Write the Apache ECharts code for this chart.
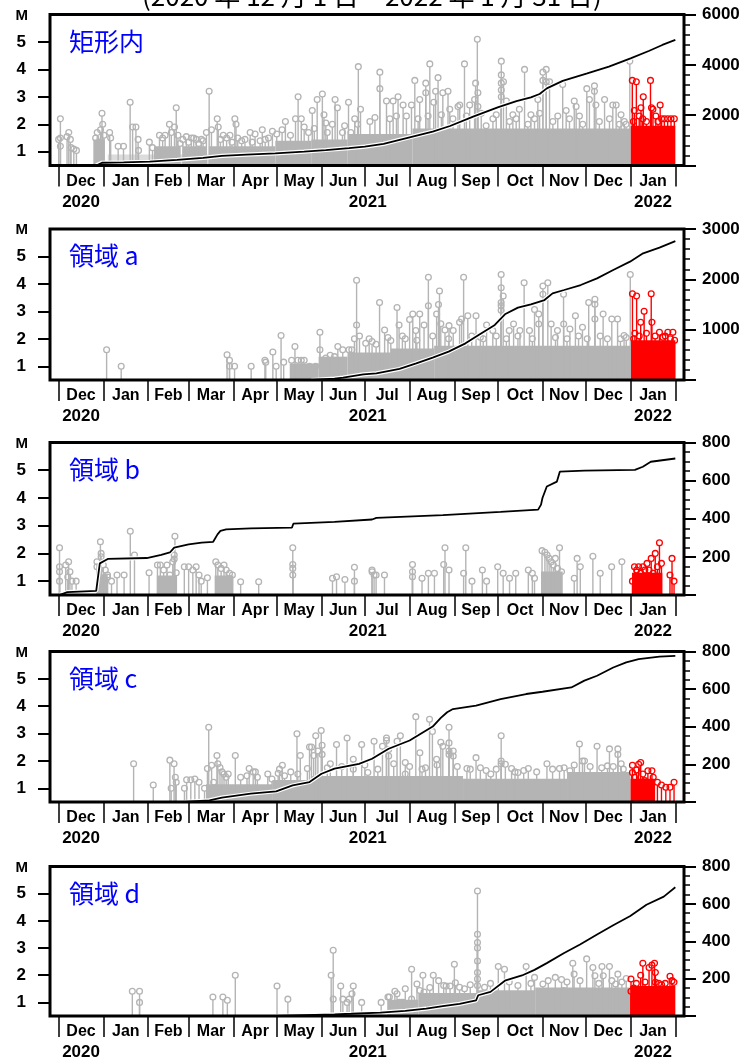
<!DOCTYPE html>
<html><head><meta charset="utf-8">
<script src="https://cdn.jsdelivr.net/npm/echarts@6/dist/echarts.min.js"></script>
<style>html,body{margin:0;padding:0;background:#fff}#c{width:750px;height:1061px}</style>
</head><body><div id="c"></div>
<script>
// ---- axis / tick data (day 0 = 2020-12-01) ----
const monthStarts = [0,31,62,90,121,151,182,212,243,274,304,335,365,396,427];
const monthNames = ['Dec','Jan','Feb','Mar','Apr','May','Jun','Jul','Aug','Sep','Oct','Nov','Dec','Jan'];
const yearPos = [15.5,214,411.5];
const yearNames = ['2020','2021','2022'];
const magTicks = [1,2,3,4,5];
const panelNames = ['矩形内','領域 a','領域 b','領域 c','領域 d'];
const countMax = [6000,3000,800,800,800];
const countStep = [2000,1000,200,200,200];
const countMinor = [5,5,4,4,4];

// ---- panel 1: 矩形内 ----
const gray1 = [[0,1.45],[1.2,2.2],[1.2,1.5],[1.2,1.2],[5.8,1.55],[7,1.7],[8.1,1.45],[8.6,1.15],[10.5,1.1],[12.3,1.05],
[25.6,1.5],[26.7,1.7],[27.9,1.35],[29,1.8],[30,2.4],[30.5,2.0],[31.4,1.6],[35.3,1.7],[36,1.5],[41.2,1.2],[44.9,1.2],
[49.5,2.8],[51.2,1.9],[53.5,1.9],[55,1.45],[55.3,1.05],[62.8,1.35],[65,1.15],
[69.8,1.6],[72,1.5],[73.7,1.6],[76.7,2.0],[78,1.7],[80.2,1.9],[81.4,2.6],[82.6,1.6],[84,1.3],[86,1.45],
[88.4,1.55],[90,1.35],[91.9,1.5],[93.5,1.5],[95.3,1.45],[97,1.3],[98.8,1.45],[100,1.4],
[102.3,1.7],[104.2,3.2],[105.8,1.8],[109.8,2.2],[110.5,1.9],[112,1.45],[114,1.6],[116.3,1.5],[118.6,1.6],[120,1.35],[122,2.2],[122.8,2.0],
[124,1.5],[126.7,1.4],[129,1.45],[132.6,1.7],[134,1.35],[136,1.65],[139.5,1.4],[141,1.8],[143,1.45],[145.3,1.5],[148,1.75],[151,1.65],[154.7,1.8],[157,2.1],[160.5,1.6],
[164,2.2],[165.8,3.0],[168,2.2],[170,1.9],[173,1.7],[175.6,2.5],[177,1.85],[179,2.9],[182.6,3.1],[183.7,2.35],[185,2.05],[186,1.7],
[189.5,2.0],[191.4,2.9],[193,2.6],[196.5,1.7],[198,1.95],[200.7,2.8],[202.3,1.7],[205,2.2],[207,2.0],[207.5,4.1],[209,2.55],
[215.5,2.1],[219,2.25],[222.4,3.9],[222.4,3.3],[227,2.85],[229.3,2.2],[231.6,2.85],[233.9,2.3],[235,3.0],[238.5,2.7],[240.8,2.3],
[244.3,2.7],[246.6,3.6],[248.9,2.2],[250,2.9],[254.2,3.15],[254.2,3.5],[255.8,2.3],[257,4.2],[259.7,2.8],[261,3.2],[262.7,3.7],
[265,2.35],[266,3.15],[269.6,3.2],[270.8,2.55],[273,2.2],[276.5,2.65],[277.7,2.7],[281,4.2],[282.3,2.3],[284.6,2.7],[288,2.9],
[288.7,3.5],[289.9,5.1],[290.3,3.15],[290.3,2.65],[292.6,2.4],[296,1.95],[300.7,2.2],[303,2.35],[306.5,4.3],[306.5,3.8],
[306.5,3.5],[306.5,3.25],[306.5,3.0],[308,3.55],[310,2.85],[312.2,2.1],[314.5,2.35],[316.8,2.2],[319,2.55],[322.6,4.0],
[324.9,2.0],[327,2.35],[329.5,2.2],[331.8,2.9],[333,2.4],[335.3,3.6],[335.3,3.9],[337.6,4.0],[337.6,3.55],[339.9,3.55],
[342.2,2.1],[345.6,2.3],[349,3.45],[351.4,2.5],[353.7,2.2],[357,2.85],[358.3,2.65],[360.6,2.3],[362.9,2.0],[365.7,3.3],
[367.5,2.9],[371,3.4],[371,3.2],[372,2.7],[374.4,2.1],[378,2.9],[381.4,2.2],[383.7,2.7],[386,2.7],[388.3,2.0],[389.4,2.35],
[391.7,2.1],[392.9,2.0],[395.5,4.3]];
const red1 = [[397.2,3.6],[398,2.1],[398.6,2.5],[400,3.55],[402,2.3],[403.2,2.6],[404.4,2.2],[404.8,3.0],[407,2.1],[409.8,3.6],
[410.5,2.6],[411.5,2.55],[413.5,2.3],[415,2.1],[416.5,2.7],[417.5,2.2],[419.4,2.2],[421.7,2.2],[424,2.2],[426.3,2.2]];
const dense1 = [[24,32,1.45],[66,84,1.2],[86,102,1.2],[104,150,1.2],[150,175,1.4],[175,200,1.45],[200,245,1.65],[245,396,1.85]];
const hatch1 = [[34,104,0.9]];
const denseRed1 = [[396,427,1.95]];
const cum1 = [[26,0],[27,60],[30,110],[45,125],[63,150],[82,220],[100,300],[113,380],[130,430],[150,480],[170,550],[185,615],
[201,690],[212,750],[225,860],[243,1120],[259,1345],[271,1570],[287,1940],[304,2310],[317,2560],[327,2710],[333,2840],
[338,3066],[349,3360],[366,3660],[381,3930],[396,4260],[409,4560],[418,4790],[427,4990]];

// ---- panel 2: 領域 a ----
const gray2 = [[33.2,1.6],[43.3,1.0],[116.6,1.42],[118.3,1.22],[118.3,1.0],[121.8,1.0],[133.3,1.0],[142.8,1.22],[143.4,1.15],
[148.3,1.52],[150.6,1.0],[154,2.12],[155.8,1.15],[161.3,1.22],[163.6,1.72],[165.6,1.22],[168,1.22],[170,1.22],[173.7,1.0],
[178,1.0],[180.9,2.24],[180.9,1.6],[185,1.3],[188,1.4],[191,1.35],[193.3,1.72],[196.7,1.6],[201,1.6],[203,1.6],[204.8,2.0],
[206.3,4.13],[206.3,2.5],[208.3,2.1],[212.6,1.84],[215,2.0],[217,1.9],[219.8,1.8],[222.2,3.32],[225.7,2.32],[228,2.05],
[230,1.94],[234.3,3.14],[235.7,2.5],[238,2.1],[240,2.0],[243,2.7],[245.2,2.9],[247.3,2.3],[248,1.95],[250,2.9],[253,2.5],
[256,4.24],[256,3.2],[259,2.1],[261.7,2.9],[263,3.25],[263.7,3.74],[264.6,2.55],[267.5,2.32],[270,2.0],[270.3,2.48],
[273.2,2.3],[277.6,2.6],[279,2.72],[280.4,4.24],[283.3,2.84],[286,2.1],[289,2.84],[292,2.06],[294,2.0],[296.3,2.5],
[300.6,2.3],[303,2.1],[306.4,4.34],[306.4,3.86],[306.4,3.32],[306.4,3.2],[306.4,3.04],[307.8,3.56],[310,2.0],[312,2.3],
[315,2.54],[318,2.1],[319.4,2.3],[322.3,4.04],[326,2.3],[328,2.0],[329.5,3.07],[332.4,2.9],[332.4,2.54],[335.3,3.92],
[335.3,3.62],[338.7,4.04],[341,2.54],[344,2.05],[345.4,2.3],[349.6,3.62],[349.7,2.54],[352,2.0],[354,2.36],[357.8,2.84],
[360,2.1],[362.7,2.42],[366,2.0],[367,3.32],[371.3,3.44],[371.3,3.26],[371.3,2.72],[375,2.1],[377,2.9],[380,2.0],
[383,2.72],[387,2.72],[389,2.0],[391.5,2.12],[393,2.05],[395.8,4.34]];
const red2 = [[397.3,3.64],[398.2,2.0],[399,2.2],[400.2,3.56],[402,2.1],[403,2.6],[405.4,3.0],[407,2.2],[410.3,3.64],
[410.8,2.6],[413,2.1],[416,2.24],[418.4,2.06],[420,2.1],[421.8,2.24],[423.5,2.0],[425.3,2.24],[426.5,1.95]];
const dense2 = [[160,180,1.1],[180,200,1.35],[200,230,1.5],[230,260,1.65],[260,396,1.75]];
const denseRed2 = [[396,427,1.95]];
const cum2 = [[175,0],[191,26],[197,46],[211,112],[220,132],[236,219],[247.6,331],[259,444],[270,563],[281.7,728],
[290.8,894],[302,1093],[309,1305],[318,1437],[327,1503],[336.4,1589],[342,1722],[350,1788],[361.5,1887],[372.8,2020],
[384,2185],[395.6,2351],[404.7,2517],[416,2629],[427,2760]];

// ---- panel 3: 領域 b ----
const gray3 = [[0.6,2.2],[0.6,1.52],[0.6,1.34],[0.6,1.0],[4.9,1.58],[6.3,1.15],[6.9,1.7],[7.8,1.34],[9.2,1.0],[12.1,1.0],
[26.5,1.7],[26.5,1.52],[28.9,2.42],[29.4,2.0],[29.4,1.88],[30.9,1.58],[32.3,1.4],[33.8,1.22],[33.8,1.15],[36.6,1.0],
[40.4,1.22],[45.3,1.22],[49.6,2.8],[52.5,1.94],[62.6,1.3],[68.4,1.58],[70.4,1.58],[72.7,1.4],[75,1.58],[77,1.22],[79,1.7],
[80,1.94],[80,1.8],[80.5,2.62],[81.4,1.3],[87,1.52],[90,1.52],[92.9,1.4],[95.2,1.52],[97.2,1.22],[98.7,1.0],[103,1.12],
[108.8,1.7],[110.2,1.58],[112.5,1.46],[114.5,1.58],[116,1.4],[118.3,1.28],[120.3,1.22],[126,0.98],[138.5,0.98],
[162.1,2.2],[162.1,1.6],[162.1,1.46],[162.1,1.22],[189.6,1.1],[192.4,1.16],[198.2,1.06],[204.8,1.5],[204.8,1.0],
[217,1.4],[217,1.34],[218.4,1.22],[219.8,1.22],[225.6,1.22],[245,1.6],[245,1.34],[245,1.16],[251.6,1.1],[256,1.28],
[260.2,1.28],[266.6,1.6],[267.5,2.2],[270.3,1.4],[280.4,1.28],[281.9,2.2],[286.2,1.0],[293.4,1.4],[296.3,1.0],[304,1.52],
[307.8,1.28],[312.2,1.1],[316.5,1.28],[325.2,1.4],[328,1.28],[329.5,1.1],[334.7,2.1],[336.7,2.04],[338.2,1.94],
[339.6,1.82],[341,1.7],[342.5,1.58],[343.9,1.82],[345.4,1.46],[346.8,2.2],[348.2,1.34],[357,1.1],[359,1.82],[361.2,1.52],
[369.9,1.9],[375,1.28],[382.9,1.52],[390,1.7]];
const red3 = [[397.3,1.0],[398.7,1.52],[400.2,1.4],[401.6,1.52],[403,1.28],[404.5,1.52],[405.9,1.4],[407.4,1.64],[408.8,1.4],
[410.3,1.82],[411.7,1.28],[413.1,2.0],[414.6,1.52],[416,2.38],[417.4,1.64],[423.3,1.22],[424.7,1.82],[426.1,1.0]];
const dense3 = [[26,34,1.25],[68,82,1.2],[108,121,1.2],[334,349,1.35]];
const denseRed3 = [[397,418,1.3]];
const cum3 = [[0.5,0],[1,8],[6,15],[26,22],[27.5,110],[28.5,166],[34,189],[61,194],[71,211],[77,223],[80,249],[90,266],
[99,275],[107,279],[110,318],[112,336],[116,344],[133,349],[161.5,353],[162.5,374],[191,384],[217,396],[220,405],[266,419],
[306,436],[332,448],[334,474],[335,509],[338,569],[345,595],[347,647],[364,652],[399,656],[404.5,673],[410,699],[427,716]];

// ---- panel 4: 領域 c ----
const gray4 = [[51.9,1.9],[65.5,1.12],[77,2.03],[77.9,1.0],[79.9,1.9],[80.8,1.4],[81.4,1.22],[87.1,1.0],[88.6,1.31],[91.5,1.31],
[94.3,1.34],[97.2,1.22],[101,1.0],[103,1.72],[103.9,3.23],[105.9,1.84],[107.3,1.22],[109.6,2.2],[110.2,1.9],[111.7,1.76],
[113.1,1.6],[114.5,1.52],[116,1.4],[117.4,1.52],[122.3,2.2],[126,1.4],[130.4,1.46],[131.9,1.72],[134.7,1.6],[136.2,1.6],
[137.6,1.4],[144.8,1.52],[147.7,1.34],[152,1.55],[152.9,1.7],[154.9,1.84],[156.4,1.46],[160.7,1.6],[165,2.99],[165.6,1.52],
[167.3,2.2],[172.2,1.72],[173.7,2.51],[175.1,2.51],[176.6,2.2],[178,2.92],[179.5,2.36],[181.8,3.11],[182.4,2.57],[182.4,2.24],
[186,1.75],[188.1,1.9],[192.4,2.6],[196,1.8],[199.7,2.84],[204,2.06],[204,1.7],[209.8,2.6],[212,1.85],[214.1,1.58],
[218.4,2.72],[221,1.7],[224.2,2.54],[227,2.84],[227,2.75],[228.5,2.42],[228.5,2.18],[232,1.9],[234.3,2.72],[236.6,2.92],
[240,1.94],[240,1.52],[243,1.8],[247.3,3.62],[250.1,2.3],[251.6,1.7],[254,1.75],[256.8,3.52],[258.8,3.08],[261.7,2.06],
[262,1.85],[264.6,2.68],[266,2.54],[270.3,3.23],[270.3,2.66],[270.3,2.36],[270.3,2.24],[273.2,2.36],[273.2,2.18],[276,1.8],
[282.7,1.72],[285,1.7],[289,2.12],[292,1.75],[296,1.65],[299.2,1.52],[303,1.7],[306.4,2.92],[306.4,2.0],[306.4,1.9],
[309.3,1.88],[313.6,1.72],[316,1.6],[318,1.58],[322,1.65],[325.2,1.72],[331,1.6],[338.1,1.9],[342,1.7],[346.8,1.72],
[350,1.75],[354,1.64],[357,1.85],[360.6,2.62],[362.7,2.0],[364.1,2.0],[368,1.8],[372.8,2.54],[376,1.75],[380,1.82],
[381.4,2.44],[384,1.8],[387.2,2.44],[387.2,2.24],[389.5,1.9],[391,1.7],[392.4,1.22]];
const red4 = [[397.3,1.84],[397.3,1.58],[398.7,1.4],[400.2,1.67],[401.6,1.88],[403,1.94],[404.5,1.52],[405.9,1.28],[408,1.64],
[410.8,1.64],[411.7,1.4],[414.6,1.22],[417.4,1.12],[420.4,1.04],[423.3,1.04],[426.1,1.22]];
const dense4 = [[102,148,1.15],[148,175,1.3],[175,280,1.45],[280,352,1.35],[352,396,1.6]];
const denseRed4 = [[396,413,1.35]];
const cum4 = [[87,0],[88,4],[104.4,9],[113,23],[133,44],[150.6,57],[162,88],[173.7,106],[182,150],[191,177],[208,203],
[217,230],[228.5,283],[243,327],[248.7,353],[259,401],[264.6,447],[269,477],[273,494],[289,512],[306,547],[323.7,574],
[335,586],[355,609],[364,645],[372.8,671],[384,715],[393,742],[401.6,759],[416,773],[427,777]];

// ---- panel 5: 領域 d ----
const gray5 = [[51,1.41],[56,1.41],[56,1.0],[106.8,1.2],[113.7,1.2],[116.8,1.08],[122.3,2.0],[151.2,1.6],[158.7,1.12],
[188.7,2.0],[190.1,2.92],[190.1,1.12],[195.3,1.6],[196.8,1.12],[199.7,1.0],[201.1,1.12],[203.1,1.32],[204,1.6],[209.8,1.0],
[223.3,1.0],[228,1.2],[229,1.2],[232.8,1.41],[234.3,1.32],[235.7,1.0],[237.2,1.0],[238.6,1.0],[240,1.5],[244.4,2.22],
[244.4,1.12],[248.1,1.68],[250.1,1.44],[252.2,2.0],[253,1.38],[255.9,1.14],[257,1.55],[259.4,2.0],[263.1,1.8],[266.6,1.62],
[268.3,1.6],[271,1.6],[274,2.4],[274.7,1.72],[277.6,1.56],[281,1.5],[285,1.65],[290,5.1],[290,3.51],[290,3.2],[290,3.0],
[290,2.52],[290,2.1],[290,1.86],[290,1.62],[294.9,1.56],[299,1.7],[304.4,2.32],[308.7,2.22],[312,1.75],[318,1.62],
[323.7,2.32],[327,1.7],[329.5,1.92],[335.3,1.68],[339,1.8],[343.9,1.92],[348.2,1.84],[349.7,1.44],[352,1.75],[356,2.44],
[356.9,2.04],[361,1.8],[365.6,2.6],[369.9,2.28],[371.3,1.98],[374,1.7],[376.2,2.32],[377.1,1.98],[381.4,2.32],[383,1.8],
[385.7,1.68],[387.2,2.04],[390,1.75],[393,1.88]];
const red5 = [[396.3,1.86],[396.3,1.41],[398.2,1.53],[400,1.7],[403,2.0],[404.5,2.44],[406,1.75],[408.8,2.28],[410.8,2.37],
[412.6,2.44],[413.2,2.1],[413.2,1.74],[415.5,1.7],[417.5,1.65],[420,1.7],[423.3,1.96],[424.7,1.8],[426.1,1.74]];
const dense5 = [[228,249,1.1],[249,290,1.35],[290,330,1.45],[330,396,1.55]];
const denseRed5 = [[396,427,1.6]];
const cum5 = [[150,0],[191,9],[202.5,12],[222.7,18],[240,27],[254.5,39],[266,53],[277.6,65],[289,83],[290.5,111],[299,129],
[309,189],[320.8,217],[329.5,247],[338,283],[349.7,336],[361,383],[372.8,436],[384,486],[395.8,535],[407,595],[419,639],
[427,689]];

// ---- assembly ----
const panels = [
  {gray:gray1, red:red1, dense:dense1, denseRed:denseRed1, hatch:hatch1, cum:cum1},
  {gray:gray2, red:red2, dense:dense2, denseRed:denseRed2, hatch:[], cum:cum2},
  {gray:gray3, red:red3, dense:dense3, denseRed:denseRed3, hatch:[], cum:cum3},
  {gray:gray4, red:red4, dense:dense4, denseRed:denseRed4, hatch:[], cum:cum4},
  {gray:gray5, red:red5, dense:dense5, denseRed:denseRed5, hatch:[], cum:cum5}
];
const M_MIN = 0.5, M_MAX = 6, X_MIN = -6, X_MAX = 433;
const grids = [[14.5,151],[229,151],[442.5,152.5],[651.5,150.5],[866.5,150.5]];
const GRAY = '#b4b4b4', RED = '#ff0000', HATCH = '#dcdcdc';
const monthMids = monthNames.map((n,i)=> (monthStarts[i]+monthStarts[i+1])/2);
const FONT = 'Liberation Sans';
function nearestIdx(arr, v){ let b=0; for(let i=1;i<arr.length;i++){ if(Math.abs(arr[i]-v)<Math.abs(arr[b]-v)) b=i; } return b; }

function stem(color){
  return function(params, api){
    const p = api.coord([api.value(0), api.value(1)]);
    const b = api.coord([api.value(0), M_MIN]);
    return {type:'group', children:[
      {type:'line', shape:{x1:p[0], y1:b[1], x2:p[0], y2:p[1]+2.8}, style:{stroke:color, lineWidth:1.4}},
      {type:'circle', shape:{cx:p[0], cy:p[1], r:2.9}, style:{fill:'none', stroke:color, lineWidth:1.3}}
    ]};
  };
}
function block(color){
  return function(params, api){
    const a = api.coord([api.value(0), api.value(2)]);
    const b = api.coord([api.value(1), M_MIN]);
    return {type:'rect', shape:{x:a[0], y:a[1], width:b[0]-a[0], height:b[1]-a[1]}, style:{fill:color}};
  };
}

const option = {animation:false, backgroundColor:'#fff', title:[], grid:[], xAxis:[], yAxis:[], series:[]};
option.title.push({text:'(2020 年 12 月 1 日～2022 年 1 月 31 日)', left:137, top:-22,
  textStyle:{fontSize:26, fontWeight:'normal', color:'#000', fontFamily:'Noto Sans CJK JP'}});
const lbl = {color:'#000', fontFamily:FONT, fontWeight:'bold'};
panels.forEach((p,i)=>{
  const [top,h] = grids[i];
  option.grid.push({left:50, width:634, top:top, height:h, show:true, borderColor:'#000', borderWidth:3});
  option.title.push({text:panelNames[i], left:64, top:top+9,
    textStyle:{fontSize:25, fontWeight:'normal', color:'#0000ff', fontFamily:'Noto Sans CJK JP'}});
  option.xAxis.push({gridIndex:i, type:'value', min:X_MIN, max:X_MAX, position:'bottom',
    axisLine:{show:false, onZero:false}, splitLine:{show:false},
    axisTick:{show:true, customValues:monthStarts, length:21, lineStyle:{color:'#000', width:1.5}},
    axisLabel:Object.assign({customValues:monthMids, margin:8, fontSize:16,
      formatter:v=>monthNames[nearestIdx(monthMids,v)]}, lbl)});
  option.xAxis.push({gridIndex:i, type:'value', min:X_MIN, max:X_MAX, position:'bottom',
    axisLine:{show:false, onZero:false}, axisTick:{show:false}, splitLine:{show:false},
    axisLabel:Object.assign({customValues:yearPos, margin:28, fontSize:17,
      formatter:v=>yearNames[nearestIdx(yearPos,v)]}, lbl)});
  option.yAxis.push({gridIndex:i, type:'value', min:M_MIN, max:M_MAX, position:'left',
    axisLine:{show:false, onZero:false}, splitLine:{show:false},
    axisTick:{show:true, customValues:magTicks, length:12, lineStyle:{color:'#000', width:2}},
    axisLabel:Object.assign({customValues:magTicks, margin:24, fontSize:17}, lbl),
    name:'M', nameLocation:'end', nameGap:-1,
    nameTextStyle:Object.assign({fontSize:15, align:'right', verticalAlign:'middle', padding:[0,22,0,0]}, lbl)});
  option.yAxis.push({gridIndex:i, type:'value', min:0, max:countMax[i], interval:countStep[i], position:'right',
    axisLine:{show:false, onZero:false}, splitLine:{show:false},
    axisTick:{show:true, length:12, lineStyle:{color:'#000', width:2}},
    minorTick:{show:true, splitNumber:countMinor[i], length:6, lineStyle:{color:'#000', width:1.5}},
    axisLabel:Object.assign({margin:18, fontSize:17, formatter:v=> v===0 ? '' : String(v)}, lbl)});
  const xi = 2*i, yi = 2*i, yc = 2*i+1;
  option.series.push({type:'custom', xAxisIndex:xi, yAxisIndex:yi, data:p.hatch, encode:{x:[0,1], y:2},
    renderItem:block(HATCH), clip:true, silent:true, z:-9});
  option.series.push({type:'custom', xAxisIndex:xi, yAxisIndex:yi, data:p.dense, encode:{x:[0,1], y:2},
    renderItem:block(GRAY), clip:true, silent:true, z:-8});
  option.series.push({type:'custom', xAxisIndex:xi, yAxisIndex:yi, data:p.denseRed, encode:{x:[0,1], y:2},
    renderItem:block(RED), clip:true, silent:true, z:-8});
  option.series.push({type:'custom', xAxisIndex:xi, yAxisIndex:yi, data:p.gray, encode:{x:0, y:1},
    renderItem:stem(GRAY), clip:true, silent:true, z:-7});
  option.series.push({type:'custom', xAxisIndex:xi, yAxisIndex:yi, data:p.red, encode:{x:0, y:1},
    renderItem:stem(RED), clip:true, silent:true, z:-7});
  option.series.push({type:'line', xAxisIndex:xi, yAxisIndex:yc, data:p.cum, showSymbol:false, silent:true,
    lineStyle:{color:'#fff', width:4.2}, z:-6});
  option.series.push({type:'line', xAxisIndex:xi, yAxisIndex:yc, data:p.cum, showSymbol:false, silent:true,
    lineStyle:{color:'#000', width:1.8}, z:-5});
});
const chart = echarts.init(document.getElementById('c'));
chart.setOption(option);
</script>
</body></html>
